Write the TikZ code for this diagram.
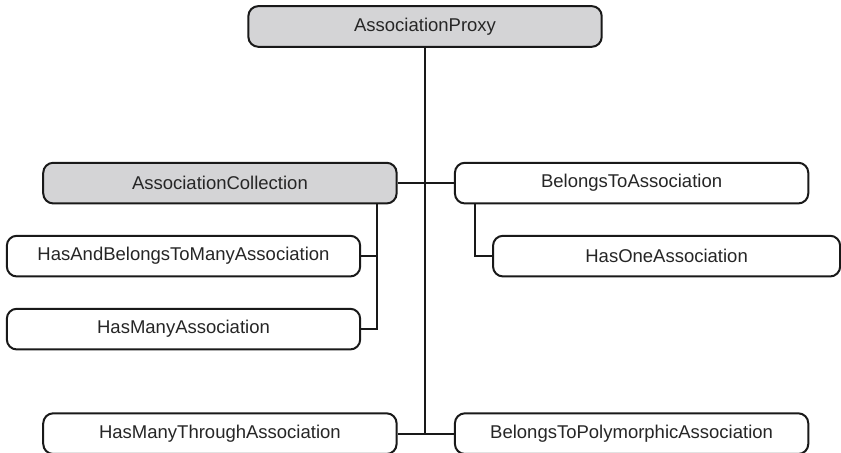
\documentclass[tikz,border=0pt]{standalone}
\usepackage{fontspec}
\setmainfont{Liberation Sans}
\usepackage{tikz}
\usetikzlibrary{shapes}
\usetikzlibrary{arrows}
\usetikzlibrary{topaths}
\definecolor{boxgray}{RGB}{212,212,214}
\tikzstyle{abstract} = [rectangle, rounded corners=10pt, minimum width=12.42cm, minimum height=1.43cm, text centered, draw=black!90, line width=2pt, fill=boxgray, text=black!85, font=\fontsize{18.5pt}{22pt}\selectfont]
\tikzstyle{concrete} = [abstract, fill=white]
\tikzstyle{wire} = [line width=2pt, draw=black!90]
\begin{document}
\begin{tikzpicture}[node distance=2.566cm]
    \useasboundingbox (-14.94,0.93) rectangle (14.62,-14.99);

    \node(proxy)[abstract]{AssociationProxy};
    \node(coll)[abstract, below of=proxy, yshift=-2.94cm, xshift=-7.21cm]{AssociationCollection};
    \node(belongs)[concrete, below of=proxy, yshift=-2.94cm, xshift=7.26cm]{BelongsToAssociation}
	  edge[wire](coll);

    \node(habtm)[concrete, below of=coll, xshift=-1.28cm]{HasAndBelongsToManyAssociation};
    \node(hasmany)[concrete, below of=habtm]{HasManyAssociation};
    \node(hasone)[concrete, below of=belongs, xshift=1.23cm, minimum width=12.2cm]{HasOneAssociation};

    \node(hmt)[concrete, below of=coll, yshift=-6.24cm]{HasManyThroughAssociation};
    \node(btp)[concrete, below of=belongs, yshift=-6.24cm]{BelongsToPolymorphicAssociation}
	  edge[wire](hmt);

    \draw[wire] (proxy) -- (proxy |- hmt);
    \draw[wire] ([xshift=5.52cm]coll.south) |- (habtm.east);
    \draw[wire] ([xshift=5.52cm]coll.south) |- (hasmany.east);
    \draw[wire] ([xshift=-5.5cm]belongs.south) |- (hasone.west);

\end{tikzpicture}
\end{document}
